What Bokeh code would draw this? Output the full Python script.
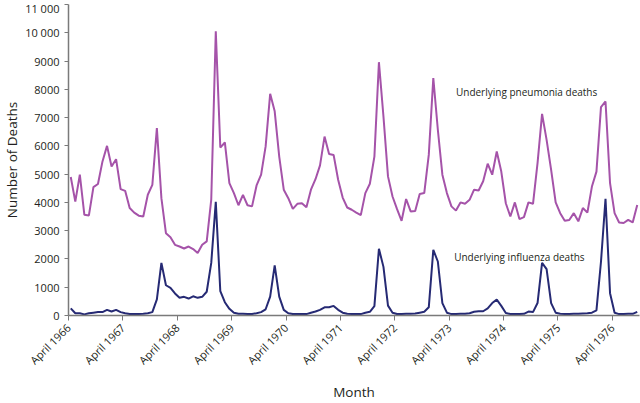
import math
from bokeh.plotting import figure
from bokeh.models import FixedTicker, Label, ColumnDataSource
from bokeh.embed import file_html
from bokeh.resources import INLINE

# Monthly values, April 1966 - September 1976
pneumonia = [4900, 4030, 4980, 3560, 3540, 4540, 4650, 5450, 6000, 5270,
             5530, 4470, 4410, 3800, 3640, 3530, 3500, 4270, 4620, 6630,
             4150, 2910, 2770, 2500, 2440, 2370, 2440, 2350, 2210, 2500,
             2620, 4100, 10050, 5940, 6120, 4680, 4330, 3900, 4270, 3900,
             3860, 4600, 4980, 5980, 7840, 7220, 5620, 4450, 4150, 3770,
             3950, 3970, 3830, 4450, 4820, 5310, 6330, 5710, 5680, 4800,
             4170, 3820, 3740, 3640, 3550, 4330, 4660, 5620, 8960, 7040,
             4920, 4210, 3760, 3350, 4120, 3680, 3700, 4300, 4330, 5680,
             8400, 6570, 4980, 4330, 3860, 3710, 4000, 3950, 4090, 4450,
             4420, 4750, 5370, 4980, 5800, 5090, 3970, 3500, 4000, 3410,
             3480, 4000, 3950, 5390, 7130, 6210, 5150, 4000, 3620, 3350,
             3380, 3620, 3330, 3800, 3640, 4560, 5090, 7370, 7570, 4680,
             3620, 3290, 3270, 3380, 3290, 3910]

influenza = [250, 80, 80, 40, 80, 100, 120, 120, 200, 140,
             200, 120, 80, 50, 50, 50, 60, 80, 120, 570,
             1860, 1070, 980, 780, 625, 660, 600, 680, 625, 660,
             840, 1860, 4020, 860, 470, 235, 95, 60, 60, 50,
             50, 80, 120, 220, 670, 1770, 670, 200, 80, 50,
             50, 50, 50, 100, 140, 200, 290, 290, 340, 200,
             100, 60, 50, 50, 50, 100, 130, 330, 2360, 1720,
             350, 95, 50, 50, 60, 60, 70, 100, 130, 290,
             2320, 1910, 440, 100, 50, 50, 60, 60, 80, 130,
             150, 150, 250, 440, 560, 340, 90, 50, 50, 50,
             60, 140, 120, 440, 1860, 1640, 440, 100, 60, 50,
             50, 60, 60, 70, 80, 100, 180, 1900, 4130, 790,
             100, 50, 50, 60, 60, 130]

year_labels = ["April 1966", "April 1967", "April 1968", "April 1969",
               "April 1970", "April 1971", "April 1972", "April 1973",
               "April 1974", "April 1975", "April 1976"]
y_ticks = [0, 1000, 2000, 3000, 4000, 5000, 6000, 7000, 8000, 9000, 10000, 11000]
y_tick_labels = ["0", "1000", "2000", "3000", "4000", "5000", "6000", "7000",
                 "8000", "9000", "10 000", "11 000"]

series_names = ["Underlying pneumonia deaths", "Underlying influenza deaths"]

PURPLE = "#a553a9"
NAVY = "#262a74"
TEXT = "#231f20"
FONT = "Open Sans"

n = len(pneumonia)
month_index = list(range(n))
src = ColumnDataSource(dict(m=month_index, pneu=pneumonia, flu=influenza))

p = figure(width=640, height=403, output_backend="svg", toolbar_location=None,
           x_range=(-0.5, n - 0.5), y_range=(0, 11000),
           min_border_top=4, min_border_right=1, min_border_left=63,
           min_border_bottom=87)
p.outline_line_color = None
p.xgrid.visible = False
p.ygrid.visible = False
p.background_fill_color = "white"

p.line("m", "pneu", source=src, line_color=PURPLE, line_width=2)
p.line("m", "flu", source=src, line_color=NAVY, line_width=2)

# x axis: ticks at the start of each April
x_tick_pos = [12 * i - 0.5 for i in range(len(year_labels))]
p.xaxis.ticker = FixedTicker(ticks=x_tick_pos)
p.xaxis.major_label_overrides = {pos: lab for pos, lab in zip(x_tick_pos, year_labels)}
p.xaxis.major_label_orientation = math.pi / 4
p.xaxis.axis_label = "Month"

p.yaxis.ticker = FixedTicker(ticks=y_ticks)
p.yaxis.major_label_overrides = {t: lab for t, lab in zip(y_ticks, y_tick_labels)}
p.yaxis.axis_label = "Number of Deaths"

for ax in (p.xaxis[0], p.yaxis[0]):
    ax.axis_line_color = "#7a7a7a"
    ax.axis_line_width = 1.5
    ax.major_tick_line_color = "#7a7a7a"
    ax.major_tick_line_width = 1
    ax.major_tick_in = 0
    ax.minor_tick_line_color = None
    ax.major_label_text_font = FONT
    ax.major_label_text_font_size = "11px"
    ax.major_label_text_color = TEXT
    ax.axis_label_text_font = FONT
    ax.axis_label_text_font_size = "13.5px"
    ax.axis_label_text_font_style = "normal"
    ax.axis_label_text_color = TEXT

p.xaxis.major_tick_out = 5
p.xaxis.major_label_standoff = 5
p.xaxis.axis_label_standoff = 7
p.yaxis.major_tick_out = 4
p.yaxis.major_label_standoff = 5
p.yaxis.axis_label_standoff = 1

label_x = [85.0, 84.6]
label_y = [7900, 2060]
for name, lx, ly in zip(series_names, label_x, label_y):
    p.add_layout(Label(x=lx, y=ly, text=name, text_baseline="middle",
                       text_font=FONT, text_font_size="10px", text_color=TEXT))

open("out.html", "w").write(file_html(p, INLINE))
